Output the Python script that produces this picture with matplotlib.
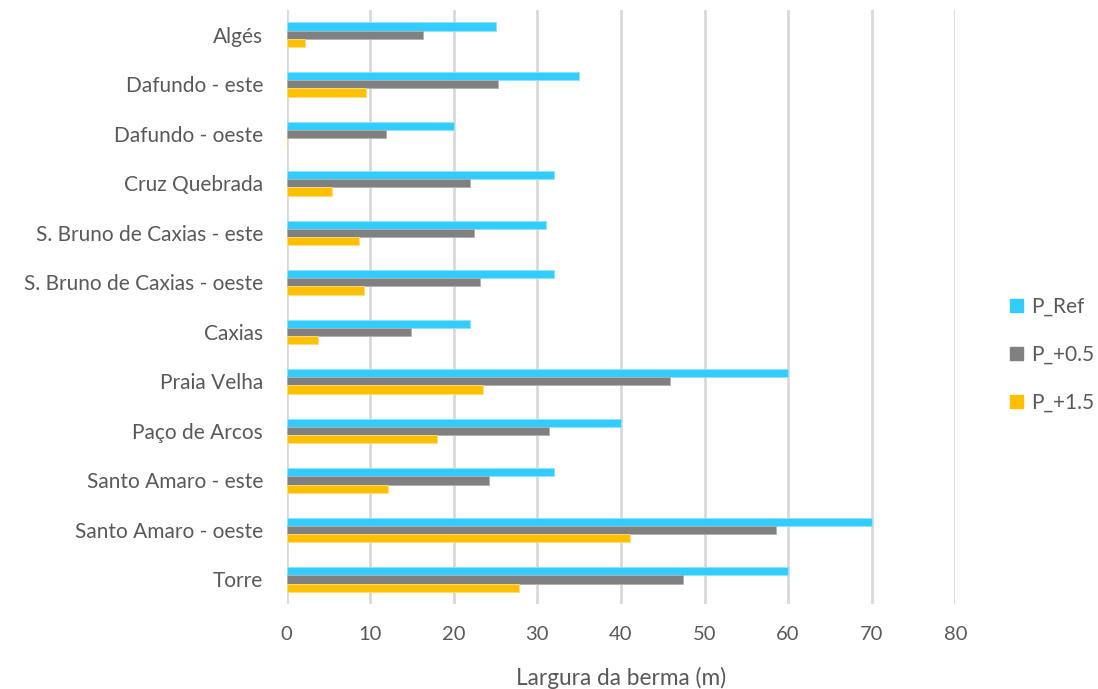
import matplotlib
matplotlib.use("Agg")
import matplotlib.pyplot as plt
import numpy as np
from matplotlib.patches import Patch

# Beach sites, listed bottom to top
locais = ["Torre", "Santo Amaro - oeste", "Santo Amaro - este", "Paço de Arcos",
          "Praia Velha", "Caxias", "S. Bruno de Caxias - oeste",
          "S. Bruno de Caxias - este", "Cruz Quebrada", "Dafundo - oeste",
          "Dafundo - este", "Algés"]

# Berm width (m) per scenario
p_ref = [60, 70, 32, 40, 60, 22, 32, 31, 32, 20, 35, 25]
p_05 = [47.4, 58.6, 24.2, 31.4, 45.9, 14.9, 23.2, 22.4, 21.9, 11.9, 25.3, 16.3]
p_15 = [27.8, 41.1, 12.1, 18.0, 23.5, 3.7, 9.3, 8.7, 5.4, 0, 9.5, 2.2]

series = ["P_Ref", "P_+0.5", "P_+1.5"]
cores = ["#33CCFF", "#808080", "#FFC000"]
bordas = ["#8FE3FF", "#B0B0B0", "#FFDB80"]

xticks = [0, 10, 20, 30, 40, 50, 60, 70, 80]

plt.rcParams["font.family"] = ["Lato", "DejaVu Sans"]

fig = plt.figure(figsize=(10.98, 6.89), dpi=100)
ax = fig.add_axes([0.261, 0.123, 0.609, 0.8625])

y = np.arange(len(locais))
h = 0.165
for k, (vals, c, e) in enumerate(zip([p_ref, p_05, p_15], cores, bordas)):
    ax.barh(y + h * (1 - k), vals, height=h, color=c, edgecolor=e,
            linewidth=0.6, label=series[k], zorder=3)

ax.set_xlim(0, 80)
ax.set_ylim(-0.5, len(locais) - 0.5)
ax.set_xticks(xticks)
ax.set_yticks(y)
ax.set_yticklabels(locais)
ax.tick_params(axis="x", length=0, colors="#595959", labelsize=14.5, pad=16)
ax.tick_params(axis="y", length=0, colors="#595959", labelsize=15, pad=17)
ax.grid(axis="x", color="#D9D9D9", linewidth=2, zorder=0)
for s in ax.spines.values():
    s.set_visible(False)
ax.set_xlabel("Largura da berma (m)", color="#595959", fontsize=16.3, labelpad=17)

handles = [Patch(facecolor=c, edgecolor=c) for c in cores]
fig.legend(handles, series, loc="center left", bbox_to_anchor=(0.903, 0.485),
           frameon=False, fontsize=15, labelcolor="#595959",
           handlelength=0.6, handleheight=0.6, handletextpad=0.4,
           labelspacing=1.35)

fig.savefig("out.png", dpi=100)
